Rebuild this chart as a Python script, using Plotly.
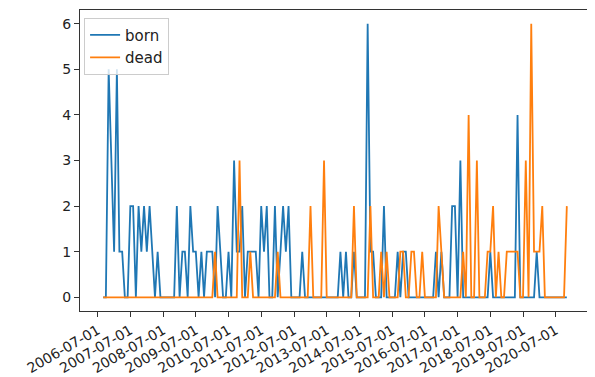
import pandas as pd
import plotly.graph_objects as go

start_month = "2006-09-01"
born = [0,0,5,3,1,5,1,1,0,0,
        2,2,0,2,1,2,1,2,1,0,
        1,0,0,0,0,0,0,2,0,1,
        1,0,2,1,1,0,1,0,1,1,
        1,0,2,1,0,0,1,0,3,1,
        1,2,0,1,1,1,1,0,2,1,
        2,0,0,2,0,1,2,1,2,0,
        0,0,0,1,0,0,0,0,0,0,
        0,0,0,0,0,0,0,1,0,1,
        0,0,1,0,0,0,0,6,1,1,
        0,0,0,2,0,0,0,0,1,0,
        1,1,0,0,0,0,0,0,0,0,
        0,0,1,0,1,0,0,0,2,2,
        0,3,0,0,0,0,0,0,0,0,
        0,0,1,0,0,0,0,0,0,0,
        0,0,4,0,0,0,0,0,0,1,
        0,0,0,0,0,0,0,0,0,0,0]
dead = [0,0,0,0,0,0,0,0,0,0,
        0,0,0,0,0,0,0,0,0,0,
        0,0,0,0,0,0,0,0,0,0,
        0,0,0,0,0,0,0,0,0,0,
        0,1,0,0,0,0,0,0,0,0,
        3,0,0,0,1,0,0,0,0,0,
        0,0,0,0,1,0,0,0,0,0,
        0,0,0,0,0,0,2,0,0,0,
        0,3,0,0,0,0,0,0,0,0,
        0,0,2,0,0,0,0,0,2,0,
        0,0,1,0,1,0,0,0,0,1,
        1,0,0,1,1,0,0,1,0,0,
        0,0,0,2,1,0,0,0,0,0,
        0,0,1,0,4,0,0,3,0,0,
        0,1,1,2,0,1,0,0,1,1,
        1,1,1,0,0,3,0,6,1,1,
        1,2,0,0,0,0,0,0,0,0,2]
tick_dates = [f"{y}-07-01" for y in range(2006, 2021)]
y_ticks = [0, 1, 2, 3, 4, 5, 6]

dates = pd.date_range(start_month, periods=len(born), freq="MS")

fig = go.Figure()
fig.add_trace(go.Scatter(x=dates, y=born, mode="lines", name="born",
                         line=dict(color="#1f77b4", width=1.8)))
fig.add_trace(go.Scatter(x=dates, y=dead, mode="lines", name="dead",
                         line=dict(color="#ff7f0e", width=1.8)))

span = (dates[-1] - dates[0]) * 0.05
# the page body adds an 8px offset, so the figure is 8px smaller
fig.update_layout(
    width=587, height=369,
    margin=dict(l=72, r=5, t=2, b=66),
    paper_bgcolor="white", plot_bgcolor="white",
    font=dict(family="DejaVu Sans", size=13, color="#222222"),
    showlegend=True,
    legend=dict(x=0.008, y=0.975, xanchor="left", yanchor="top",
                bgcolor="rgba(255,255,255,0.8)", bordercolor="#cccccc",
                borderwidth=1, font=dict(size=15),
                entrywidth=52, entrywidthmode="pixels"),
    xaxis=dict(
        automargin=False,
        range=[dates[0] - span, dates[-1] + span],
        tickvals=tick_dates, ticktext=tick_dates, tickangle=-30,
        tickfont=dict(size=14),
        showgrid=False, zeroline=False,
        showline=True, mirror=True, linecolor="#333333", linewidth=1,
        ticks="outside", ticklen=5, tickcolor="#333333",
    ),
    yaxis=dict(
        automargin=False,
        range=[-0.3, 6.3], tickvals=y_ticks,
        tickfont=dict(size=14),
        showgrid=False, zeroline=False,
        showline=True, mirror=True, linecolor="#333333", linewidth=1,
        ticks="outside", ticklen=5, tickcolor="#333333",
    ),
)

fig.write_html("out.html")
